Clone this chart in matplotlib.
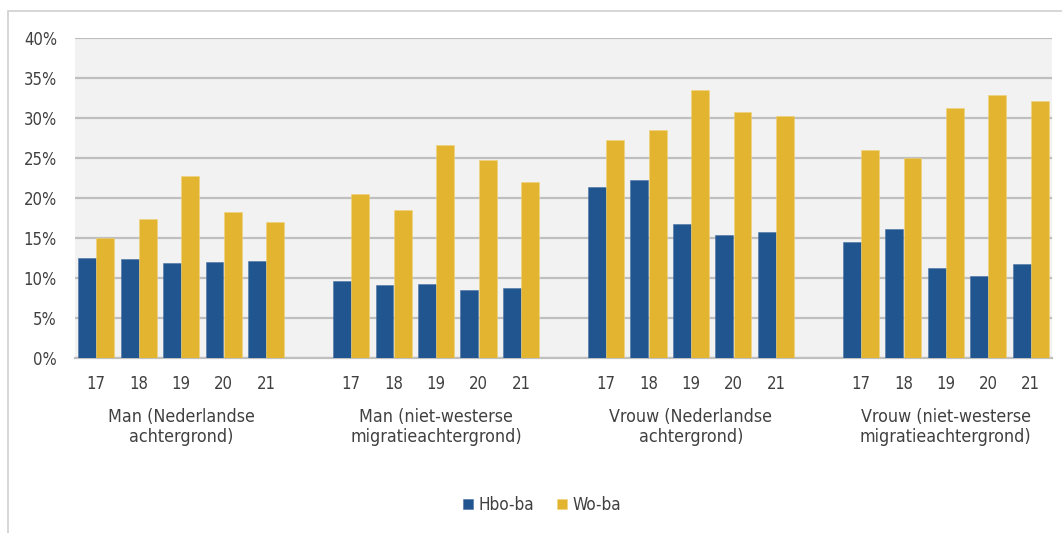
import numpy as np
import matplotlib
matplotlib.use("Agg")
import matplotlib.pyplot as plt
from matplotlib.patches import Rectangle

# --- data ---
years = ["17", "18", "19", "20", "21"]
groups = [
    "Man (Nederlandse\nachtergrond)",
    "Man (niet-westerse\nmigratieachtergrond)",
    "Vrouw (Nederlandse\nachtergrond)",
    "Vrouw (niet-westerse\nmigratieachtergrond)",
]
hbo_ba = [
    [12.5, 12.4, 11.9, 12.0, 12.1],
    [9.6, 9.1, 9.2, 8.5, 8.7],
    [21.4, 22.3, 16.8, 15.4, 15.7],
    [14.5, 16.1, 11.2, 10.2, 11.8],
]
wo_ba = [
    [15.0, 17.4, 22.7, 18.3, 17.0],
    [20.5, 18.5, 26.6, 24.8, 22.0],
    [27.3, 28.5, 33.5, 30.7, 30.3],
    [26.0, 25.0, 31.2, 32.9, 32.1],
]
series_names = ["Hbo-ba", "Wo-ba"]
colors = ["#215590", "#e2b430"]
text_col = "#404040"

plt.rcParams["font.family"] = ["DejaVu Sans"]
plt.rcParams["font.stretch"] = "condensed"

W, H = 1062, 533
fig = plt.figure(figsize=(W / 100, H / 100), dpi=100)

# outer chart frame (runs off the right/bottom edge like the screenshot)
fig.patches.append(Rectangle((8 / W, -0.1), 1.2, (H - 11) / H + 0.1,
                             transform=fig.transFigure, fill=False,
                             edgecolor="#d0d0d0", lw=1.2))

ax = fig.add_axes([75 / W, (H - 358) / H, (1052 - 75) / W, (358 - 38) / H])
ax.set_facecolor("#f2f2f2")

# slot positions: 5 years per group, one empty slot between groups
slots = []
for g in range(len(groups)):
    slots.append(np.arange(5) + g * 6)
slots = np.array(slots)

w = 0.42
for g in range(len(groups)):
    ax.bar(slots[g] - w / 2 - 0.005, hbo_ba[g], width=w, color=colors[0],
           edgecolor="#4a73a3", linewidth=0.4, zorder=3,
           label=series_names[0] if g == 0 else None)
    ax.bar(slots[g] + w / 2 + 0.005, wo_ba[g], width=w, color=colors[1],
           edgecolor="#f0d27a", linewidth=0.4, zorder=3,
           label=series_names[1] if g == 0 else None)

ax.set_xlim(-0.5, 22.5)
ax.set_ylim(0, 40)
ax.set_yticks(range(0, 41, 5))
ax.set_yticklabels([f"{v}%" for v in range(0, 41, 5)])
ax.yaxis.grid(True, color="#bfbfbf", lw=1.6, zorder=1)
ax.set_axisbelow(True)

ax.set_xticks(slots.ravel())
ax.set_xticklabels(years * len(groups))
ax.tick_params(axis="both", length=0, labelsize=12, colors=text_col)
ax.tick_params(axis="x", pad=12)
ax.tick_params(axis="y", pad=13)

for s in ["top", "right", "left"]:
    ax.spines[s].set_visible(False)
ax.spines["bottom"].set_color("#bfbfbf")
ax.spines["bottom"].set_linewidth(1.6)

# group labels under the year ticks
trans = matplotlib.transforms.blended_transform_factory(ax.transData, fig.transFigure)
for g, name in enumerate(groups):
    ax.text(slots[g].mean(), (H - 427) / H, name, transform=trans,
            ha="center", va="center", fontsize=12.8, color=text_col,
            linespacing=1.2)

leg = fig.legend(loc="center", bbox_to_anchor=(542 / W, (H - 505) / H),
                 ncol=2, frameon=False, fontsize=12.3, handlelength=0.6,
                 handleheight=0.6, handletextpad=0.35, columnspacing=1.3)
for t in leg.get_texts():
    t.set_color(text_col)

fig.savefig("out.png", dpi=100, facecolor="white")
